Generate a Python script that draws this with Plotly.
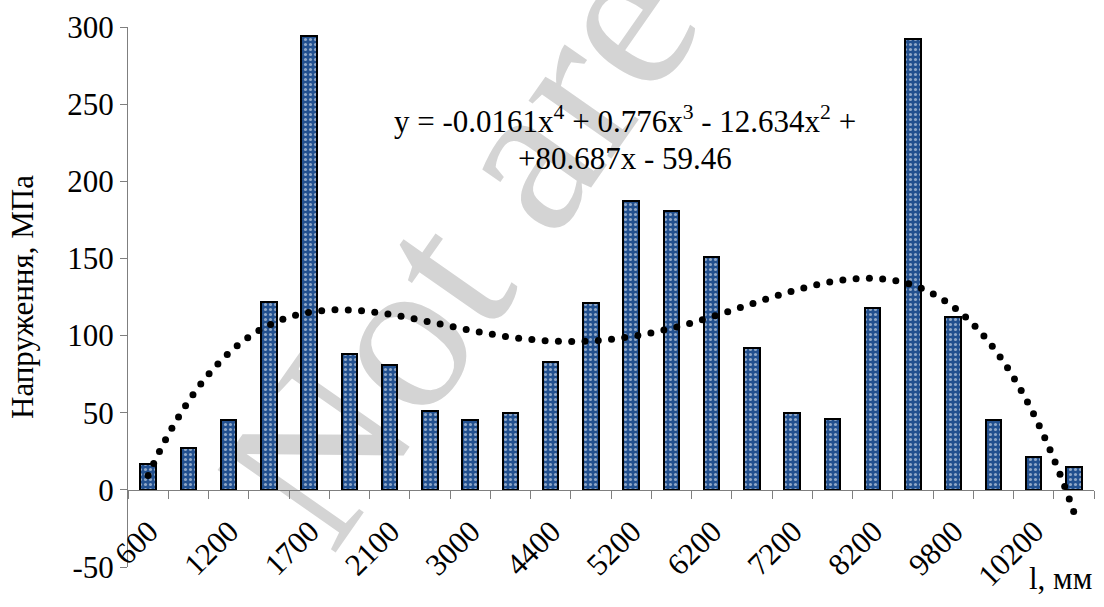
import numpy as np
import plotly.graph_objects as go

# Stress values per measuring point (point number 1..24 along the beam)
points = list(range(1, 25))
stress_mpa = [17, 27, 45, 122, 294, 88, 81, 51, 45, 50, 83, 121,
              187, 181, 151, 92, 50, 46, 118, 292, 112, 45, 21, 15]

# Labelled positions along the length (every second point is labelled)
tick_points = [1, 3, 5, 7, 9, 11, 13, 15, 17, 19, 21, 23]
tick_labels = ["600", "1200", "1700", "2100", "3000", "4400",
               "5200", "6200", "7200", "8200", "9800", "10200"]

# Stress axis ticks
y_ticks = [-50, 0, 50, 100, 150, 200, 250, 300]
y_tick_labels = ["-50", "0", "50", "100", "150", "200", "250", "300"]

# 4th-order polynomial trend: y = a4 x^4 + a3 x^3 + a2 x^2 + a1 x + a0
trend_coef = [-0.0161, 0.776, -12.634, 80.687, -59.46]

Y_MIN, Y_MAX = -50, 300
W, H = 1104, 607
M_L, M_R, M_T, M_B = 128, 10, 22, 40
plot_w = W - M_L - M_R
plot_h = H - M_T - M_B
px_per_x = plot_w / 24.0
px_per_y = plot_h / (Y_MAX - Y_MIN)

FONT = "Liberation Serif"
TICK_SIZE = 31

# Trend line drawn as evenly spaced round dots (screen-space spacing)
xf = np.linspace(1, 24, 6000)
yf = np.polyval(trend_coef, xf)
seg = np.hypot(np.diff(xf * px_per_x), np.diff(yf * px_per_y))
cum = np.concatenate([[0], np.cumsum(seg)])
targets = np.arange(0, cum[-1] + 0.01, 13.3)
x_dots = np.interp(targets, cum, xf)
y_dots = np.polyval(trend_coef, x_dots)

fig = go.Figure()

fig.add_trace(go.Bar(
    x=points, y=stress_mpa, width=0.38,
    marker=dict(
        color="#22508F",
        line=dict(color="black", width=2),
        pattern=dict(shape=".", fgcolor="white", bgcolor="#22508F",
                     size=5, solidity=0.3),
    ),
    showlegend=False, hoverinfo="x+y",
))

fig.add_trace(go.Scatter(
    x=x_dots, y=y_dots, mode="markers",
    marker=dict(color="black", size=7),
    showlegend=False, hoverinfo="skip",
))

fig.update_layout(
    width=W, height=H,
    margin=dict(l=M_L, r=M_R, t=M_T, b=M_B),
    paper_bgcolor="white", plot_bgcolor="white",
    font=dict(family=FONT, size=TICK_SIZE, color="black"),
    bargap=0,
    xaxis=dict(
        range=[0.5, 24.5],
        anchor="free", position=(0 - Y_MIN) / (Y_MAX - Y_MIN),
        showline=True, linecolor="#7f7f7f", linewidth=1,
        showgrid=False, zeroline=False,
        tickmode="array", tickvals=tick_points, ticktext=tick_labels,
        ticks="", tickangle=-45, ticklabelstandoff=10, ticklabelshift=1,
        tickfont=dict(family=FONT, size=TICK_SIZE, color="black"),
        minor=dict(tickmode="array",
                   tickvals=[p + 0.5 for p in range(0, 25)],
                   ticks="outside", ticklen=8, tickcolor="#7f7f7f",
                   tickwidth=1, showgrid=False),
    ),
    yaxis=dict(
        range=[Y_MIN, Y_MAX],
        tickmode="array", tickvals=y_ticks, ticktext=y_tick_labels,
        showline=True, linecolor="#7f7f7f", linewidth=1,
        showgrid=False, zeroline=False,
        ticks="outside", ticklen=7, tickcolor="#7f7f7f",
        tickfont=dict(family=FONT, size=TICK_SIZE, color="black"),
    ),
)

# Faint diagonal watermark behind the data
fig.add_shape(
    type="rect", xref="paper", yref="paper",
    x0=0.312, x1=0.332, y0=0.607, y1=0.627,
    line=dict(width=0), fillcolor="rgba(0,0,0,0)", layer="below",
    label=dict(text="Not are", textangle=-55,
               textposition="middle center",
               font=dict(family=FONT, size=220, color="#d4d4d4")),
)

# Trend equation (two centred lines)
EQ_X = 12.84
fig.add_annotation(
    x=EQ_X, y=240, xref="x", yref="y", xanchor="center", yanchor="middle",
    text="y = -0.0161x<sup>4</sup> + 0.776x<sup>3</sup> - 12.634x<sup>2</sup> +",
    showarrow=False, font=dict(family=FONT, size=TICK_SIZE, color="black"),
)
fig.add_annotation(
    x=EQ_X, y=215, xref="x", yref="y", xanchor="center", yanchor="middle",
    text="+80.687x - 59.46",
    showarrow=False, font=dict(family=FONT, size=TICK_SIZE, color="black"),
)

# Axis titles
fig.add_annotation(
    x=(22 - M_L) / plot_w, y=0.5, xref="paper", yref="paper",
    xanchor="center", yanchor="middle", textangle=-90,
    text="Напруження, МПа", showarrow=False,
    font=dict(family=FONT, size=TICK_SIZE, color="black"),
)
fig.add_annotation(
    x=1.0, y=0, xref="paper", yref="paper", xanchor="right", yanchor="middle",
    yshift=-11,
    text="l, мм", showarrow=False,
    font=dict(family=FONT, size=TICK_SIZE, color="black"),
)

fig.write_html("out.html")
